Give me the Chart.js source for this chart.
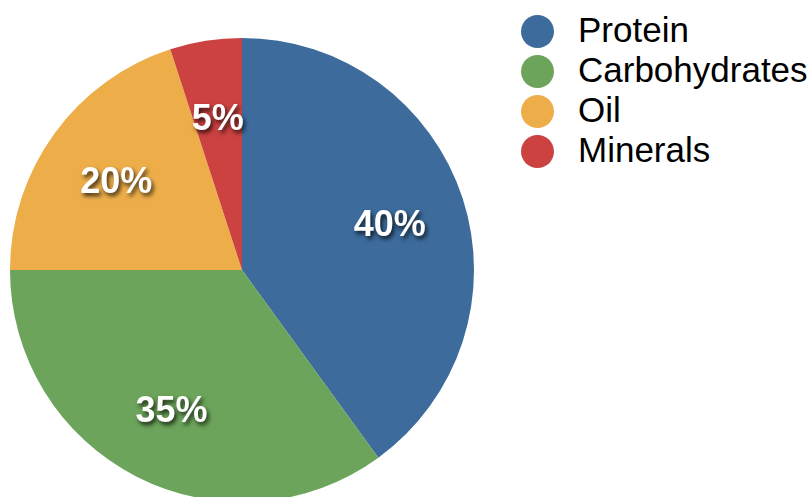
<!DOCTYPE html>
<html>
<head>
<meta charset="utf-8">
<script src="https://cdn.jsdelivr.net/npm/chart.js@4/dist/chart.umd.min.js"></script>
<style>
    html, body { margin: 0; padding: 0; overflow: hidden; background: #fff; }
    #pie_wrap { position: absolute; left: 0; top: 0; width: 484px; height: 540px; }
    #legend { position: absolute; left: 521px; top: 11px; font-family: "Liberation Sans", Arial, Helvetica, sans-serif; font-size: 35px; color: #000; }
    .item { height: 40px; display: flex; align-items: center; }
    .dot { width: 33px; height: 33px; border-radius: 50%; margin-right: 24px; flex: none; }
    .item span { line-height: 33px; position: relative; top: -2px; }
</style>
</head>
<body>
<div id="pie_wrap"><canvas id="pie"></canvas></div>
<div id="legend"></div>
<script>
var labels = ["Protein", "Carbohydrates", "Oil", "Minerals"];
var values = [40, 35, 20, 5];
var colors = ["#3c6b9c", "#6ba45a", "#edae4a", "#cb4240"];

// white percentage text with a soft drop shadow, placed inside each slice
var sliceLabels = {
    id: "sliceLabels",
    afterDatasetsDraw: function (chart) {
        var ctx = chart.ctx;
        var meta = chart.getDatasetMeta(0);
        ctx.save();
        ctx.font = "bold 36px 'Liberation Sans', Arial, sans-serif";
        ctx.textAlign = "center";
        ctx.textBaseline = "middle";
        ctx.fillStyle = "#fff";
        ctx.shadowColor = "rgba(0, 0, 0, 0.75)";
        ctx.shadowOffsetX = 2;
        ctx.shadowOffsetY = 3;
        ctx.shadowBlur = 4;
        meta.data.forEach(function (arc, i) {
            var p = arc.getProps(["x", "y", "startAngle", "endAngle", "outerRadius"], true);
            var mid = (p.startAngle + p.endAngle) / 2;
            var r = p.outerRadius * 0.67;
            ctx.fillText(values[i] + "%", p.x + Math.cos(mid) * r, p.y + Math.sin(mid) * r + 4);
        });
        ctx.restore();
    }
};

var pie = new Chart(document.getElementById("pie"), {
    type: "pie",
    data: {
        labels: labels,
        datasets: [{
            data: values,
            backgroundColor: colors,
            borderWidth: 0
        }]
    },
    options: {
        responsive: true,
        maintainAspectRatio: false,
        animation: false,
        layout: { padding: { left: 10, right: 10, top: 38, bottom: 38 } },
        plugins: {
            legend: { display: false },
            tooltip: { enabled: false }
        }
    },
    plugins: [sliceLabels]
});

var legend_div = document.getElementById("legend");
labels.forEach(function (name, i) {
    var row = document.createElement("div");
    row.className = "item";
    var dot = document.createElement("div");
    dot.className = "dot";
    dot.style.background = colors[i];
    var text = document.createElement("span");
    text.textContent = name;
    row.appendChild(dot);
    row.appendChild(text);
    legend_div.appendChild(row);
});
</script>
</body>
</html>
